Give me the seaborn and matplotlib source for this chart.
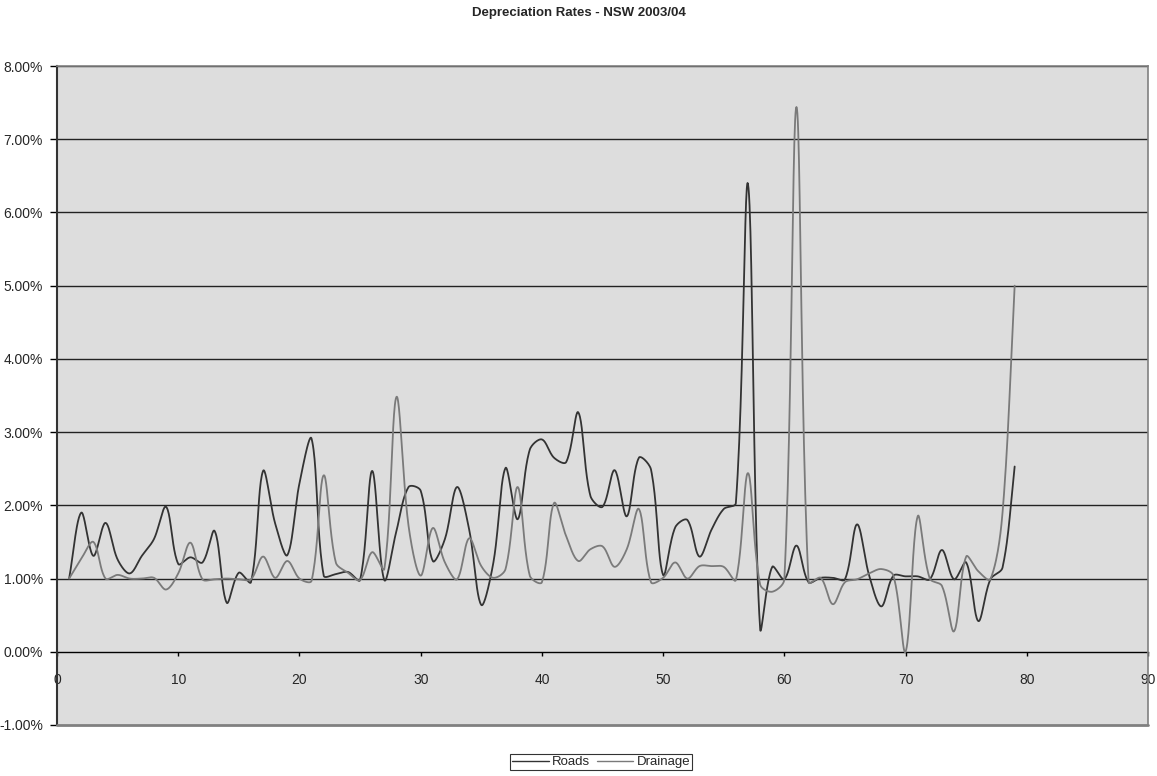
import numpy as np
import pandas as pd
import matplotlib
matplotlib.use("Agg")
import matplotlib.pyplot as plt
import seaborn as sns

title = "Depreciation Rates - NSW 2003/04"
series_names = ["Roads", "Drainage"]
x_index = list(range(1, 80))

roads = [1.00, 1.90, 1.31, 1.76, 1.26, 1.07, 1.31, 1.54, 1.98, 1.20,
         1.29, 1.22, 1.65, 0.67, 1.08, 0.95, 2.47, 1.75, 1.32, 2.30,
         2.91, 1.04, 1.06, 1.09, 0.98, 2.47, 0.98, 1.65, 2.25, 2.20,
         1.24, 1.54, 2.25, 1.67, 0.64, 1.22, 2.51, 1.81, 2.76, 2.90,
         2.65, 2.59, 3.27, 2.13, 1.98, 2.48, 1.85, 2.65, 2.49, 1.05,
         1.70, 1.80, 1.30, 1.67, 1.95, 2.03, 6.39, 0.32, 1.16, 0.99,
         1.45, 0.95, 1.01, 1.01, 0.99, 1.74, 1.04, 0.62, 1.04, 1.03,
         1.03, 0.99, 1.39, 0.99, 1.22, 0.42, 0.99, 1.15, 2.53]

drainage = [1.00, 1.27, 1.50, 1.00, 1.05, 1.00, 1.00, 1.01, 0.85, 1.07,
            1.49, 0.99, 0.99, 1.00, 0.99, 0.99, 1.30, 1.01, 1.24, 1.00,
            0.97, 2.41, 1.22, 1.08, 0.98, 1.36, 1.13, 3.48, 1.72, 1.04,
            1.69, 1.22, 0.99, 1.55, 1.17, 1.01, 1.13, 2.25, 1.04, 0.95,
            2.03, 1.58, 1.24, 1.40, 1.44, 1.16, 1.40, 1.95, 0.95, 1.01,
            1.22, 1.00, 1.17, 1.17, 1.16, 0.98, 2.44, 0.92, 0.82, 0.99,
            7.44, 0.95, 1.01, 0.65, 0.95, 0.99, 1.07, 1.13, 1.04, 0.00,
            1.85, 1.00, 0.90, 0.28, 1.30, 1.10, 0.99, 1.90, 5.00]

x_ticks = list(range(0, 91, 10))
y_ticks = list(range(-1, 9))
colors = {"Roads": "#333333", "Drainage": "#7a7a7a"}


def smooth(xs, ys, kx=12.12, ky=73.0, n=24):
    """Excel-like smoothed line: Bezier segments whose control points are
    scaled by neighbouring segment lengths (in screen space)."""
    P = np.column_stack([np.asarray(xs, float) * kx, np.asarray(ys, float) * ky])
    m = len(P)
    t = np.linspace(0, 1, n, endpoint=False)[:, None]
    f = 1.0 / 6.0
    out = []
    for i in range(m - 1):
        p1, p2 = P[i], P[i + 1]
        p0 = P[i - 1] if i > 0 else p1
        p3 = P[i + 2] if i + 2 < m else p2
        d01 = np.hypot(*(p1 - p0))
        d12 = np.hypot(*(p2 - p1))
        d23 = np.hypot(*(p3 - p2))
        s1 = 2 * d12 / (d01 + d12) if d01 + d12 > 0 else 0.0
        s2 = 2 * d12 / (d12 + d23) if d12 + d23 > 0 else 0.0
        c1 = p1 + f * s1 * (p2 - p0)
        c2 = p2 - f * s2 * (p3 - p1)
        b = ((1 - t) ** 3) * p1 + 3 * ((1 - t) ** 2) * t * c1 \
            + 3 * (1 - t) * (t ** 2) * c2 + (t ** 3) * p2
        out.append(b)
    out.append(P[-1][None, :])
    out = np.vstack(out)
    return out[:, 0] / kx, out[:, 1] / ky


frames = []
for name, vals in zip(series_names, [roads, drainage]):
    sx, sy = smooth(x_index, vals)
    frames.append(pd.DataFrame({"x": sx, "y": sy, "series": name}))
df = pd.concat(frames, ignore_index=True)

sns.set_style("white")
plt.rcParams["font.family"] = ["Liberation Sans", "DejaVu Sans"]

fig = plt.figure(figsize=(11.57, 7.76), dpi=100)
ax = fig.add_axes([57 / 1157, 1 - 725 / 776, (1148 - 57) / 1157, (725 - 66) / 776])
ax.set_facecolor("#dddddd")

for yv in y_ticks[1:]:
    if yv == 0:
        continue
    ax.axhline(yv, color="#222222", lw=1.0, zorder=1)

sns.lineplot(data=df, x="x", y="y", hue="series", palette=colors,
             hue_order=series_names, sort=False, estimator=None,
             linewidth=1.3, ax=ax, zorder=3)

ax.set_xlim(0, 90)
ax.set_ylim(-1, 8)
ax.set_xticks(x_ticks)
ax.set_xticklabels([str(v) for v in x_ticks])
ax.set_yticks(y_ticks)
ax.set_yticklabels([f"{v:.2f}%" for v in y_ticks])
ax.set_xlabel("")
ax.set_ylabel("")

ax.spines["bottom"].set_position(("data", 0))
ax.spines["bottom"].set_color("#000000")
ax.spines["bottom"].set_linewidth(1.0)
ax.spines["bottom"].set_zorder(2)
ax.spines["left"].set_color("#333333")
ax.spines["left"].set_linewidth(1.5)
for s in ["top", "right"]:
    ax.spines[s].set_color("#808080")
    ax.spines[s].set_linewidth(1.2)
ax.axhline(-1, color="#808080", lw=2.0, zorder=4, clip_on=False)

ax.tick_params(axis="x", direction="out", length=3, width=1, color="#000000",
               pad=12, labelsize=10, bottom=True)
ax.tick_params(axis="y", direction="out", length=5, width=1, color="#000000",
               pad=5, labelsize=10, left=True)

fig.text(0.5, 1 - 13 / 776, title, ha="center", va="center",
         fontsize=9.5, fontweight="bold")

handles, labels = ax.get_legend_handles_labels()
ax.get_legend().remove()
leg = fig.legend(handles, labels, loc="center", ncol=2,
                 bbox_to_anchor=(601 / 1157, 1 - 762 / 776), frameon=True,
                 fancybox=False, edgecolor="#000000", fontsize=9.5,
                 handlelength=2.8, handletextpad=0.25, columnspacing=0.5,
                 borderpad=0.12, borderaxespad=0)
leg.get_frame().set_linewidth(0.8)
for line in leg.get_lines():
    line.set_linewidth(1.0)

fig.savefig("out.png", dpi=100, facecolor="white")
